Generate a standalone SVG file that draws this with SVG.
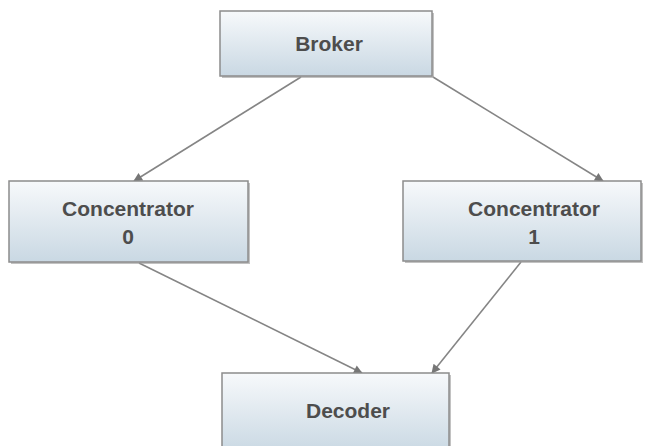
<svg xmlns="http://www.w3.org/2000/svg" width="666" height="446" viewBox="0 0 666 446">
<defs>
<linearGradient id="g" x1="0" y1="0" x2="0" y2="1">
<stop offset="0" stop-color="#f7f9fb"/>
<stop offset="1" stop-color="#c9d8e3"/>
</linearGradient>
<marker id="ah" viewBox="0 0 10 10" refX="9" refY="5" markerWidth="12" markerHeight="9" markerUnits="userSpaceOnUse" orient="auto">
<path d="M0,0 L10,5 L0,10 Z" fill="#767676"/>
</marker>
</defs>
<style>
.box{fill:url(#g);stroke:#8c8c8c;stroke-width:1.5}
.sh{fill:#9a9a9a;opacity:0.6}
.t{font-family:"Liberation Sans",Arial,sans-serif;font-weight:bold;font-size:21px;fill:#4d4d4d;text-anchor:middle}
.c{stroke:#858585;stroke-width:1.6;fill:none;marker-end:url(#ah)}
</style>
<rect width="666" height="446" fill="#ffffff"/>
<g id="connectors">
<line class="c" x1="301" y1="77" x2="134" y2="181"/>
<line class="c" x1="433" y1="77" x2="603" y2="181"/>
<line class="c" x1="139" y1="263" x2="362" y2="373"/>
<line class="c" x1="521" y1="262" x2="432" y2="373"/>
</g>
<g id="broker">
<rect class="sh" x="222" y="13" width="212" height="65"/>
<rect class="box" x="220" y="11" width="212" height="65"/>
<text class="t" x="329" y="51">Broker</text>
</g>
<g id="concentrator0">
<rect class="sh" x="11" y="183" width="239" height="81"/>
<rect class="box" x="9" y="181" width="239" height="81"/>
<text class="t" x="128" y="216">Concentrator</text>
<text class="t" x="128" y="244">0</text>
</g>
<g id="concentrator1">
<rect class="sh" x="405" y="183" width="238" height="80"/>
<rect class="box" x="403" y="181" width="238" height="80"/>
<text class="t" x="534" y="216">Concentrator</text>
<text class="t" x="534" y="244">1</text>
</g>
<g id="decoder">
<rect class="sh" x="224" y="375" width="227" height="80"/>
<rect class="box" x="222" y="373" width="227" height="80"/>
<text class="t" x="348" y="418">Decoder</text>
</g>
</svg>
